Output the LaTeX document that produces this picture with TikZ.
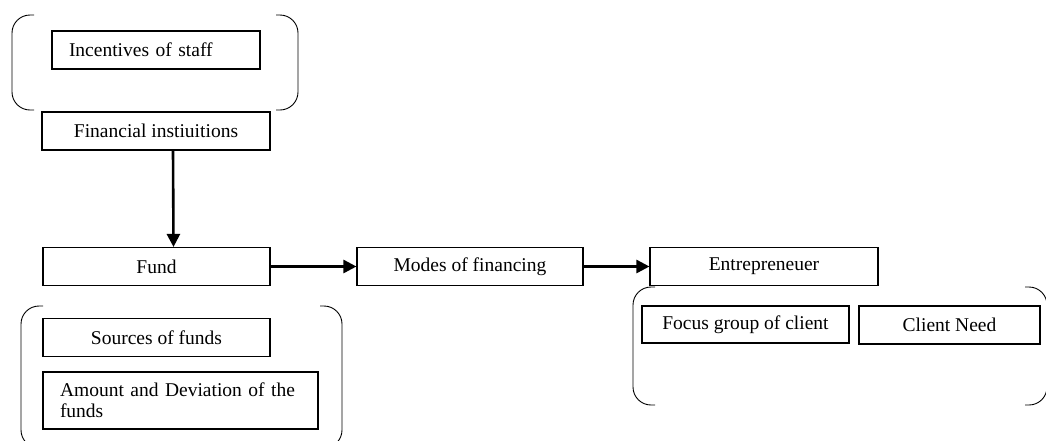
\documentclass[tikz,border=0pt]{standalone}
\usepackage{fontspec}
\setmainfont{Liberation Serif}
\usetikzlibrary{arrows.meta}

\begin{document}
\begin{tikzpicture}[x=1pt,y=-1pt,
  box/.style={draw,line width=1.1pt,minimum height=38pt,inner sep=0pt,
    font=\fontsize{19.5}{21}\selectfont},
  leftbox/.style={box,align=left,inner xsep=17pt},
  brak/.style={line width=0.9pt,rounded corners=18pt},
  arr/.style={line width=2.6pt,-{Triangle[length=13pt,width=13pt]}}]
  \useasboundingbox (0,0) rectangle (1046,440);
  % left x, right x, top y, bottom y
  \def\brackets#1#2#3#4{
    \draw[brak] (#1+22,#3) -- (#1,#3) -- (#1,#4) -- (#1+22,#4);
    \draw[brak] (#2-22,#3) -- (#2,#3) -- (#2,#4) -- (#2-22,#4);
  }
  \brackets{12}{298}{15}{110}
  \brackets{21}{342}{306}{448}
  \brackets{633}{1047}{287}{405}

  \node[leftbox,text width=174pt] (incent) at (156,50) {Incentives of staff};
  \node[box,minimum width=228pt] (fin) at (156,131) {Financial instiuitions};
  \node[box,minimum width=227pt] (fund) at (156.5,266.5) {Fund};
  \node[box,minimum width=226pt] (modes) at (470,266.5) {Modes of financing};
  \node[box,minimum width=228pt] (entre) at (764,266.5) {Entrepreneuer};
  \node[box,minimum width=227pt] (src) at (156.5,337.5) {Sources of funds};
  \node[leftbox,text width=241pt,minimum height=57pt] (amount) at (180.5,400.5)
    {Amount and Deviation of the\\funds};
  \node[box,minimum width=207pt,minimum height=37pt] (focus) at (745.5,324.5) {Focus group of client};
  \node[box,minimum width=181pt] (need) at (949.5,325) {Client Need};

  \draw[arr] ([xshift=17pt]fin.south) -- ([xshift=17pt]fund.north);
  \draw[arr] (fund) -- (modes);
  \draw[arr] (modes) -- (entre);
\end{tikzpicture}
\end{document}
